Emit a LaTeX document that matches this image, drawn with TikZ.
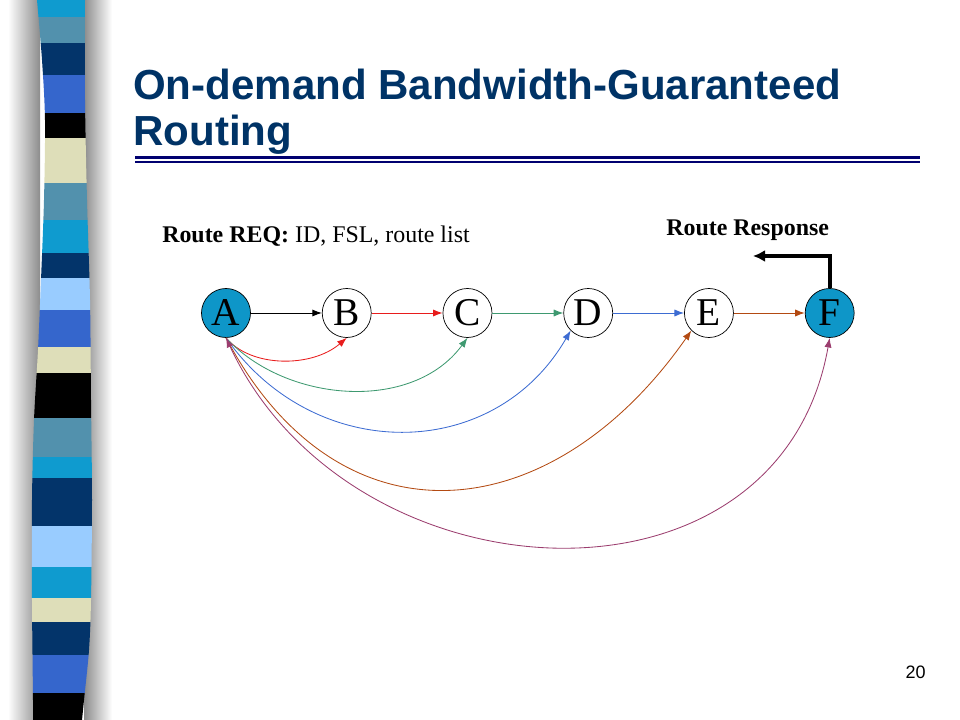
\documentclass[tikz,border=0pt]{standalone}
\usepackage{fontspec}
\setmainfont{Liberation Serif}
\setsansfont{Liberation Sans}
\usepackage{xcolor}
\usetikzlibrary{
arrows,
arrows.meta,
positioning,
shadings
}
\definecolor{titelblau}{HTML}{003366}
\definecolor{regelblau}{HTML}{000070}
\definecolor{knotenblau}{HTML}{0E96C8}
\definecolor{hopred}{HTML}{E81C1C}
\definecolor{hopgreen}{HTML}{3E9970}
\definecolor{hopblue}{HTML}{3D6CD2}
\definecolor{hopbrown}{HTML}{B34A12}
\definecolor{hoppurple}{HTML}{9B3D6E}
% Streifen links
\definecolor{bar_cyan}{HTML}{0F9BCF}
\definecolor{bar_steel}{HTML}{5291AD}
\definecolor{bar_navy}{HTML}{03346A}
\definecolor{bar_royal}{HTML}{3566CC}
\definecolor{bar_beige}{HTML}{DEDEB9}
\definecolor{bar_light}{HTML}{99CCFF}

\begin{document}
\begin{tikzpicture}
[x=0.025cm, y=-0.025cm,
node_hop/.style ={circle, draw, line width=0.5pt, fill=white, minimum size=1.225cm, inner sep=0, font=\fontsize{28}{28}\selectfont},
node_end/.style ={node_hop, fill=knotenblau},
line_hop/.style ={draw, line width=0.7pt, -{Latex[length=0.24cm,width=0.18cm]}},
line_arc/.style ={draw, line width=0.6pt, -{Latex[length=0.24cm,width=0.18cm]}},
line_resp/.style ={draw, line width=0.1cm, -{Latex[length=0.3cm,width=0.3cm]}},
text_plain/.style ={anchor=base west, inner sep=0, font=\fontsize{17}{20}\selectfont}
]
\useasboundingbox (0,0) rectangle (960,720);

%%%Streifen%%%
\shade[left color=white, right color=gray!90] (8,0) rectangle (40,720);
\shade[left color=gray!90, right color=white] (84,0) rectangle (112,720);
\begin{scope}
\clip plot[smooth] coordinates {(37,0) (42,60) (45,120) (44,200) (41,280) (38,350) (34,420) (32,500) (32,600) (33,700) (33,720)}
 -- plot[smooth] coordinates {(82,720) (84,700) (89,650) (91,600) (92,500) (91,400) (90,300) (87,200) (85,100) (85,0)} -- cycle;
\fill[bar_cyan] (20,0) rectangle (100,17);
\fill[bar_steel] (20,17) rectangle (100,43);
\fill[bar_navy] (20,43) rectangle (100,75);
\fill[bar_royal] (20,75) rectangle (100,113);
\fill[black] (20,113) rectangle (100,138);
\fill[bar_beige] (20,138) rectangle (100,183);
\fill[bar_steel] (20,183) rectangle (100,220);
\fill[bar_cyan] (20,220) rectangle (100,253);
\fill[bar_navy] (20,253) rectangle (100,278);
\fill[bar_light] (20,278) rectangle (100,310);
\fill[bar_royal] (20,310) rectangle (100,347);
\fill[bar_beige] (20,347) rectangle (100,373);
\fill[black] (20,373) rectangle (100,418);
\fill[bar_steel] (20,418) rectangle (100,457);
\fill[bar_cyan] (20,457) rectangle (100,478);
\fill[bar_navy] (20,478) rectangle (100,526);
\fill[bar_light] (20,526) rectangle (100,567);
\fill[bar_cyan] (20,567) rectangle (100,598);
\fill[bar_beige] (20,598) rectangle (100,622);
\fill[bar_navy] (20,622) rectangle (100,655);
\fill[bar_royal] (20,655) rectangle (100,693);
\fill[black] (20,693) rectangle (100,720);
\end{scope}

%%%Titel%%%
\node[anchor=base west, inner sep=0, text=titelblau, font=\sffamily\bfseries\fontsize{29.9}{36}\selectfont] (titel) at (133,100) {On-demand Bandwidth-Guaranteed};
\node[anchor=base west, inner sep=0, text=titelblau, font=\sffamily\bfseries\fontsize{29.9}{36}\selectfont] (titel_zwei) at (133,146) {Routing};
\draw[regelblau, line width=0.075cm] (135,157.5) -- (920,157.5);
\draw[regelblau, line width=0.05cm] (135,162.5) -- (920,162.5);

%%%Knoten%%%
\node [node_end] (A) at (226,313) {A};
\node [node_hop, right=1.775cm of A] (B) {B};
\node [node_hop, right=1.775cm of B] (C) {C};
\node [node_hop, right=1.775cm of C] (D) {D};
\node [node_hop, right=1.775cm of D] (E) {E};
\node [node_end, right=1.775cm of E] (F) {F};

\node [text_plain] (req) at (162,243) {\textbf{Route REQ:} ID, FSL, route list};
\node [text_plain, font=\bfseries\fontsize{17}{20}\selectfont] (resp) at (666,236) {Route Response};

%%Pfeile%%%
\draw [line_hop] (A) -- (B);
\draw [line_hop, hopred] (B) -- (C);
\draw [line_hop, hopgreen] (C) -- (D);
\draw [line_hop, hopblue] (D) -- (E);
\draw [line_hop, hopbrown] (E) -- (F);

\draw [line_arc, hopred] (A.south) .. controls +(25,30) and +(-35,30) .. (B.south);
\draw [line_arc, hopgreen] (A.south) .. controls +(60,65) and +(-55,75) .. (C.south);
\draw [line_arc, hopblue] (A.south) .. controls +(88,126) and +(-77,133) .. (D.south west);
\draw [line_arc, hopbrown] (A.south) .. controls +(114,215) and +(-139,199) .. (E.south west);
\draw [line_arc, hoppurple, {Latex[length=0.24cm,width=0.18cm]}-{Latex[length=0.24cm,width=0.18cm]}] (A.south) .. controls +(124,266) and +(-51,289) .. (F.south);

\coordinate (resp_end) at (753,256);
\draw [line_resp] (F.north) |- (resp_end);

\node [anchor=base east, inner sep=0, font=\sffamily\fontsize{12.8}{14}\selectfont] (seite) at (926,678) {20};

\end{tikzpicture}
\end{document}
